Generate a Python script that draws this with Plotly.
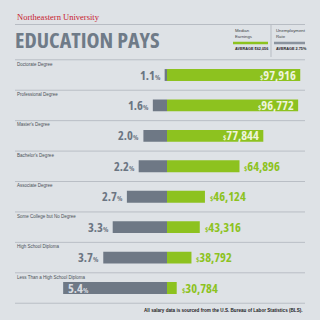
import plotly.graph_objects as go

categories = ["Doctorate Degree", "Professional Degree", "Master's Degree", "Bachelor's Degree",
              "Associate Degree", "Some College but No Degree", "High School Diploma",
              "Less Than a High School Diploma"]
unemployment = [1.1, 1.6, 2.0, 2.2, 2.7, 3.3, 3.7, 5.4]
earnings = [97916, 96772, 77844, 64896, 46124, 43316, 38792, 30784]
avg_earn = sum(earnings) / len(earnings)
avg_unemp = sum(unemployment) / len(unemployment)

W = H = 320
BG = "#dee2e6"
GRAY = "#6e7885"
GREEN = "#8dc21f"
NARROW = "Open Sans"
SANS = "Liberation Sans, Arial, sans-serif"
COND = "<span style='font-stretch:75%%'>%s</span>"

def px(x):
    return x / W

def py(y):
    return 1 - y / H

rows = list(range(len(categories)))
pitch = 30.43
first = 75.0

fig = go.Figure()
fig.add_trace(go.Bar(y=rows, x=unemployment, orientation="h", xaxis="x", yaxis="y",
                     width=0.39, marker=dict(color=GRAY, line=dict(width=0)),
                     hoverinfo="skip"))
fig.add_trace(go.Bar(y=rows, x=earnings, orientation="h", xaxis="x2", yaxis="y",
                     width=0.39, marker=dict(color=GREEN, line=dict(width=0)),
                     hoverinfo="skip"))

ann = []
shapes = []

ann.append(dict(text="Northeastern University", x=px(15), y=py(17), xref="paper", yref="paper",
                xanchor="left", yanchor="middle", showarrow=False,
                font=dict(family="Liberation Serif, DejaVu Serif, serif", size=8.5, color="#c8202f")))
ann.append(dict(text=COND % "<b>EDUCATION PAYS</b>", x=px(13), y=py(39), xref="paper", yref="paper",
                xanchor="left", yanchor="middle", showarrow=False,
                font=dict(family=NARROW, size=22, color="#6f7b88", weight=800)))
shapes.append(dict(type="line", xref="paper", yref="paper", x0=px(15), x1=px(305),
                   y0=py(24.5), y1=py(24.5), line=dict(color="#b7bcc3", width=1)))
shapes.append(dict(type="line", xref="paper", yref="paper", x0=px(271), x1=px(271),
                   y0=py(25), y1=py(57), line=dict(color="#b7bcc3", width=1)))

ann.append(dict(text="Median<br>Earnings", x=px(233), y=py(33.5), xref="paper", yref="paper",
                xanchor="left", yanchor="middle", showarrow=False, align="left",
                font=dict(family=SANS, size=4.3, color="#3d4248")))
shapes.append(dict(type="line", xref="paper", yref="paper", x0=px(233), x1=px(268),
                   y0=py(43), y1=py(43), line=dict(color=GREEN, width=2.5)))
ann.append(dict(text="<b>AVERAGE $%s</b>" % format(round(avg_earn), ","), x=px(233), y=py(48.5),
                xref="paper", yref="paper", xanchor="left", yanchor="middle", showarrow=False,
                font=dict(family=SANS, size=3.8, color="#1e2226")))
ann.append(dict(text="Unemployment<br>Rate", x=px(274), y=py(33.5), xref="paper", yref="paper",
                xanchor="left", yanchor="middle", showarrow=False, align="left",
                font=dict(family=SANS, size=4.3, color="#3d4248")))
shapes.append(dict(type="line", xref="paper", yref="paper", x0=px(274), x1=px(305),
                   y0=py(43), y1=py(43), line=dict(color="#8a939e", width=2.5)))
ann.append(dict(text="<b>AVERAGE %.2f%%</b>" % avg_unemp, x=px(274), y=py(48.5),
                xref="paper", yref="paper", xanchor="left", yanchor="middle", showarrow=False,
                font=dict(family=SANS, size=3.8, color="#1e2226")))

for k in range(len(categories) + 1):
    yv = k - 0.5
    shapes.append(dict(type="line", xref="paper", yref="y", x0=px(15), x1=px(305),
                       y0=yv, y1=yv, line=dict(color="#b9bec5", width=1)))

small = "<span style='font-size:7px;font-stretch:75%%'>%s</span>"
for i, (cat, u, e) in enumerate(zip(categories, unemployment, earnings)):
    ann.append(dict(text=cat, x=px(15), y=i - 0.36, xref="paper", yref="y",
                    xanchor="left", yanchor="middle", showarrow=False,
                    font=dict(family=SANS, size=4.5, color="#4a5057")))
    ptxt = "<b>" + COND % ("%.1f" % u) + small % "%" + "</b>"
    if u > 5:
        ann.append(dict(text=ptxt, x=u, y=i, xref="x", yref="y", xanchor="left", xshift=3,
                        yanchor="middle", showarrow=False,
                        font=dict(family=NARROW, size=12.5, color="#d9dde2", weight=800)))
    else:
        ann.append(dict(text=ptxt, x=u, y=i, xref="x", yref="y", xanchor="right", xshift=-2,
                        yanchor="middle", showarrow=False,
                        font=dict(family=NARROW, size=12.5, color="#6b7582", weight=800)))
    etxt = "<b>" + small % "$" + COND % format(e, ",") + "</b>"
    if e > 70000:
        ann.append(dict(text=etxt, x=e, y=i, xref="x2", yref="y", xanchor="right", xshift=-2,
                        yanchor="middle", showarrow=False,
                        font=dict(family=NARROW, size=12.5, color="#eef4dc", weight=800)))
    else:
        ann.append(dict(text=etxt, x=e, y=i, xref="x2", yref="y", xanchor="left", xshift=3,
                        yanchor="middle", showarrow=False,
                        font=dict(family=NARROW, size=12.5, color=GREEN, weight=800)))

ann.append(dict(text="<b>All salary data is sourced from the U.S. Bureau of Labor Statistics (BLS).</b>",
                x=px(305), y=py(310.5), xref="paper", yref="paper", xanchor="right",
                yanchor="middle", showarrow=False,
                font=dict(family=SANS, size=4.6, color="#1e2226")))

fig.update_layout(
    width=W, height=H, autosize=False,
    margin=dict(l=0, r=0, t=0, b=0, pad=0),
    paper_bgcolor=BG, plot_bgcolor="rgba(0,0,0,0)",
    barmode="overlay", showlegend=False,
    xaxis=dict(domain=[px(15), px(167)], range=[7.44, 1.0], visible=False, fixedrange=True),
    xaxis2=dict(domain=[px(167), px(305)], range=[25500, 100500], anchor="y",
                visible=False, fixedrange=True),
    yaxis=dict(domain=[0, 1], range=[(H - first) / pitch, -first / pitch], visible=False,
               fixedrange=True),
    annotations=ann, shapes=shapes,
)

fig.write_html("out.html")
